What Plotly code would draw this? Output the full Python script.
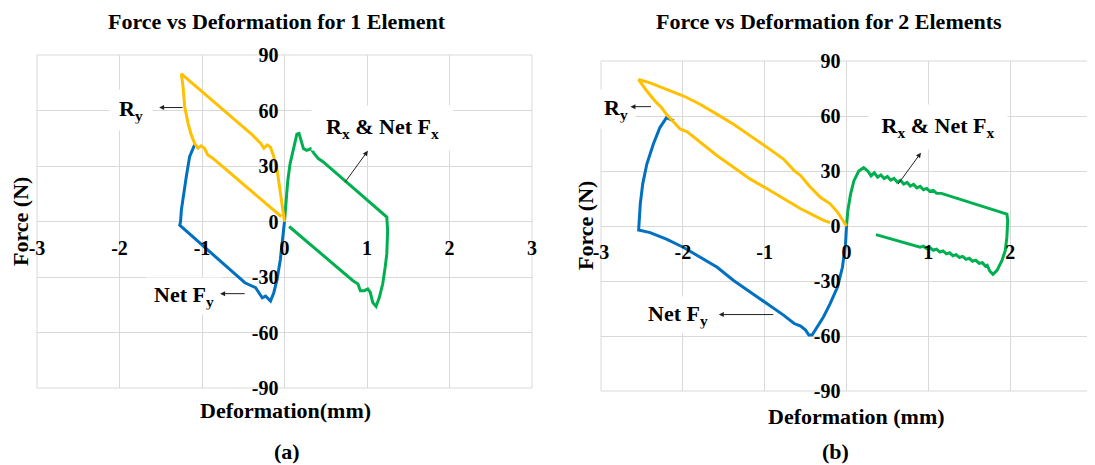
import plotly.graph_objects as go

# -----------------------------------------------------
# DATA  (deformation in mm, force in N)
# -----------------------------------------------------

# (a) 1 element
el1_ry_def = [0, -0.024, -0.05, -0.09, -0.13, -0.17, -0.21, -0.25, -0.29, -0.35, -0.39,
              -1.25, -1.23, -1.21, -1.17, -1.13, -1.09, -1.05, -1.01, -0.97, -0.93, -0.87, -0.04]
el1_ry_force = [0, 8.1, 17.1, 27.9, 35.1, 40.2, 41.4, 39.6, 42.3, 45, 46.8,
                79.8, 73, 62.2, 53.2, 46.8, 42.3, 39.6, 40.9, 39.6, 36, 34.2, 2.7]

el1_fy_def = [-1.09, -1.15, -1.19, -1.23, -1.25, -1.26, -1.27, -0.48, -0.41, -0.35, -0.31,
              -0.27, -0.23, -0.19, -0.17, -0.13, -0.09, -0.05, -0.02, 0]
el1_fy_force = [41.4, 35.1, 24.3, 13.5, 6.3, 0, -2.0, -33.1, -34.5, -35.8, -38.5,
                -41.2, -40.3, -42.1, -43, -38.5, -31.3, -20.4, -9.6, 0]

el1_fx_def = [0, 0.016, 0.04, 0.068, 0.11, 0.15, 0.176, 0.2, 0.23, 0.27, 0.32, 0.36, 0.41, 0.47,
              1.24, 1.25, 1.24, 1.22, 1.19, 1.15, 1.11, 1.07, 1.04, 1.01, 0.97, 0.92, 0.89, 0.83, 0.056]
el1_fx_force = [0, 9.6, 22.2, 31.3, 40.3, 47.2, 47.6, 43.9, 39.4, 38.5, 39.4, 36.7, 34, 32.2,
                2.4, -4.9, -17.5, -24.8, -33.8, -41, -45.9, -43.8, -38.3, -36.5, -37.4, -37.4, -33.8, -32, -2.7]

# (b) 2 elements
el2_ry_def = [0, -0.11, -0.20, -0.32, -0.46, -0.56, -0.64, -0.77, -0.97, -1.18, -1.38, -1.58,
              -1.79, -1.99, -2.20, -2.40, -2.54, -2.44, -2.34, -2.26, -2.20, -2.11, -2.03, -1.95,
              -1.79, -1.58, -1.38, -1.18, -0.97, -0.77, -0.56, -0.40, -0.28, -0.20]
el2_ry_force = [0, 7.6, 12.1, 15.7, 22.1, 27.5, 30.2, 36.5, 42.9, 49.2, 55.5, 60.9,
                66.4, 70.9, 74.5, 78.1, 79.9, 73.6, 68.2, 64.6, 60.9, 56.4, 52.8, 51.5,
                45.6, 38.3, 32, 25.7, 20.3, 14.8, 9.4, 5.8, 3.1, 1.8]

el2_fy_def = [-2.11, -2.20, -2.28, -2.36, -2.44, -2.49, -2.52, -2.53, -2.54, -2.40, -2.20, -1.99,
              -1.79, -1.58, -1.38, -1.18, -0.97, -0.77, -0.64, -0.56, -0.50, -0.46, -0.42, -0.36,
              -0.28, -0.20, -0.11, -0.05, -0.012, 0]
el2_fy_force = [57.3, 59.1, 53.7, 44.7, 33.8, 23, 12.1, 0, -2.2, -3.6, -7.2, -11.7,
                -17.1, -22.5, -29.7, -36, -42.3, -48.6, -53.2, -54.6, -56.8, -59.5, -59.5, -55,
                -49.5, -42.3, -33.3, -22.5, -9.9, 0]

el2_fx_def = [0, 0.016, 0.05, 0.09, 0.15, 0.21, 0.26, 0.30, 0.34, 0.38, 0.42, 0.46, 0.50, 0.54,
              0.58, 0.62, 0.66, 0.70, 0.74, 0.78, 0.82, 0.86, 0.90, 0.94, 0.98, 1.02, 1.06, 1.10,
              1.16, 1.96, 1.97, 1.96, 1.94, 1.90, 1.84, 1.79, 1.75, 1.72, 1.70, 1.66, 1.62, 1.58,
              1.54, 1.50, 1.46, 1.42, 1.38, 1.34, 1.30, 1.26, 1.22, 1.18, 1.14, 1.10, 1.06, 1.02,
              0.98, 0.94, 0.90, 0.36]
el2_fx_force = [0, 8.3, 17.4, 24.6, 30, 31.8, 30, 27.3, 29.0, 26.6, 27.8, 25.9, 27.0, 25.0,
                26.0, 23.9, 24.9, 22.9, 23.8, 21.8, 22.7, 20.8, 21.6, 19.8, 20.5, 18.8, 19.4, 17.9,
                17.8, 6.5, 3.0, -6.1, -13.4, -18.8, -24.2, -26.4, -24.5, -21.5, -22.0, -20.0, -20.4, -18.6,
                -19.2, -17.6, -18.2, -16.6, -17.2, -15.6, -16.2, -14.6, -15.2, -13.6, -14.2, -12.6, -13.2, -11.8,
                -12.3, -11.0, -11.5, -4.7]

x_ticks = [-3, -2, -1, 0, 1, 2, 3]
y_ticks = [-90, -60, -30, 0, 30, 60, 90]

BLUE = "#0070C0"
YELLOW = "#FFC000"
GREEN = "#00B050"
GRID = "#d9d9d9"
FONT = "Liberation Serif"

# the page body keeps its default 8px margin, so the figure is drawn
# 8px in from the window's top-left corner
OFF = 8
W, H = 1095 - OFF, 465 - OFF


def px_x(p):
    return (p - OFF) / W


def px_y(p):
    return 1 - (p - OFF) / H


# plot areas in window pixels (left, right, top, bottom)
box_a = (37, 532, 55, 388)
box_b = (601, 1092, 61, 391)

fig = go.Figure()

# =====================================================
# TRACES
# =====================================================

panels = [
    ("x", "y", el1_fy_def, el1_fy_force, el1_fx_def, el1_fx_force, el1_ry_def, el1_ry_force),
    ("x2", "y2", el2_fy_def, el2_fy_force, el2_fx_def, el2_fx_force, el2_ry_def, el2_ry_force),
]

for xa, ya, fyx, fyy, fxx, fxy, ryx, ryy in panels:
    fig.add_trace(go.Scatter(x=fyx, y=fyy, mode="lines", xaxis=xa, yaxis=ya,
                             line=dict(color=BLUE, width=3), showlegend=False))
    fig.add_trace(go.Scatter(x=fxx, y=fxy, mode="lines", xaxis=xa, yaxis=ya,
                             line=dict(color=GREEN, width=3), showlegend=False))
    fig.add_trace(go.Scatter(x=ryx, y=ryy, mode="lines", xaxis=xa, yaxis=ya,
                             line=dict(color=YELLOW, width=3), showlegend=False))

# =====================================================
# AXES  (crossing at zero, Excel style)
# =====================================================

tick_font = dict(family=FONT, size=20, color="black", weight="bold")


def x_axis(box, ydom):
    return dict(
        domain=[px_x(box[0]), min(px_x(box[1]), 1)],
        range=[-3, 3], tickvals=x_ticks, ticktext=[str(v) for v in x_ticks],
        anchor="free", position=(ydom[0] + ydom[1]) / 2,
        showgrid=True, gridcolor=GRID, gridwidth=1,
        zeroline=True, zerolinecolor=GRID, zerolinewidth=1,
        showline=False, ticks="", tickfont=tick_font,
        ticklabelstandoff=12, automargin=False, fixedrange=True,
    )


def y_axis(box, xdom):
    return dict(
        domain=[px_y(box[3]), px_y(box[2])],
        range=[-90, 90], tickvals=y_ticks, ticktext=[str(v) for v in y_ticks],
        anchor="free", position=(xdom[0] + xdom[1]) / 2,
        showgrid=True, gridcolor=GRID, gridwidth=1,
        zeroline=True, zerolinecolor=GRID, zerolinewidth=1,
        showline=False, ticks="", tickfont=tick_font,
        ticklabelstandoff=6, automargin=False, fixedrange=True,
    )


xdom_a = [px_x(box_a[0]), px_x(box_a[1])]
ydom_a = [px_y(box_a[3]), px_y(box_a[2])]
xdom_b = [px_x(box_b[0]), px_x(box_b[1])]
ydom_b = [px_y(box_b[3]), px_y(box_b[2])]

fig.update_layout(
    xaxis=x_axis(box_a, ydom_a),
    yaxis=y_axis(box_a, xdom_a),
    xaxis2=x_axis(box_b, ydom_b),
    yaxis2=y_axis(box_b, xdom_b),
)

for xr, yr in [("x domain", "y domain"), ("x2 domain", "y2 domain")]:
    fig.add_shape(type="rect", xref=xr, yref=yr, x0=0, x1=1, y0=0, y1=1,
                  line=dict(color=GRID, width=1), layer="below")

# =====================================================
# TEXT
# =====================================================

big_font = dict(family=FONT, size=22, color="black", weight="bold")


def paper_text(text, x, y, angle=0):
    fig.add_annotation(text=text, x=px_x(x), y=px_y(y), xref="paper", yref="paper",
                       showarrow=False, font=big_font, textangle=angle,
                       xanchor="center", yanchor="middle")


paper_text("Force vs Deformation for 1 Element", 277, 21)
paper_text("Force vs Deformation for 2 Elements", 829, 22)
paper_text("Force (N)", 20, 222, -90)
paper_text("Force (N)", 585, 226, -90)
paper_text("Deformation(mm)", 285, 410)
paper_text("Deformation (mm)", 856, 416)
paper_text("(a)", 287, 451)
paper_text("(b)", 835, 451)


def label(text, xr, yr, x, y, width=None, pad=4):
    fig.add_annotation(text=text, x=x, y=y, xref=xr, yref=yr, showarrow=False,
                       font=big_font, bgcolor="white", borderpad=pad, width=width,
                       xanchor="center", yanchor="middle")


def arrow(xr, yr, x, y, ax, ay):
    fig.add_annotation(text="", x=x, y=y, xref=xr, yref=yr, ax=ax, ay=ay,
                       showarrow=True, arrowhead=2, arrowsize=1, arrowwidth=1,
                       arrowcolor="#222222")


# panel (a)
label("R<sub>y</sub>", "x", "y", -1.86, 60.5, width=30, pad=6)
arrow("x", "y", -1.52, 61.6, 25, 0)
label("R<sub>x</sub> &amp; Net F<sub>x</sub>", "x", "y", 1.19, 50.5, width=125, pad=8)
arrow("x", "y", 1.01, 38.2, -24, 33)
label("Net F<sub>y</sub>", "x", "y", -1.22, -40, width=66, pad=4)
arrow("x", "y", -0.78, -39, 26, 0)

# panel (b)
label("R<sub>y</sub>", "x2", "y2", -2.82, 63.6, width=28, pad=5)
arrow("x2", "y2", -2.64, 65.1, 22, 0)
label("R<sub>x</sub> &amp; Net F<sub>x</sub>", "x2", "y2", 1.12, 54, width=122, pad=8)
arrow("x2", "y2", 0.91, 40, -24, 33)
label("Net F<sub>y</sub>", "x2", "y2", -2.06, -48.6, width=66, pad=4)
arrow("x2", "y2", -1.56, -48.3, 56, 0)

fig.update_layout(
    width=W, height=H,
    margin=dict(l=0, r=0, t=0, b=0, autoexpand=False),
    paper_bgcolor="white", plot_bgcolor="white",
    font=dict(family=FONT, color="black"),
    showlegend=False,
)

fig.write_html("out.html")
